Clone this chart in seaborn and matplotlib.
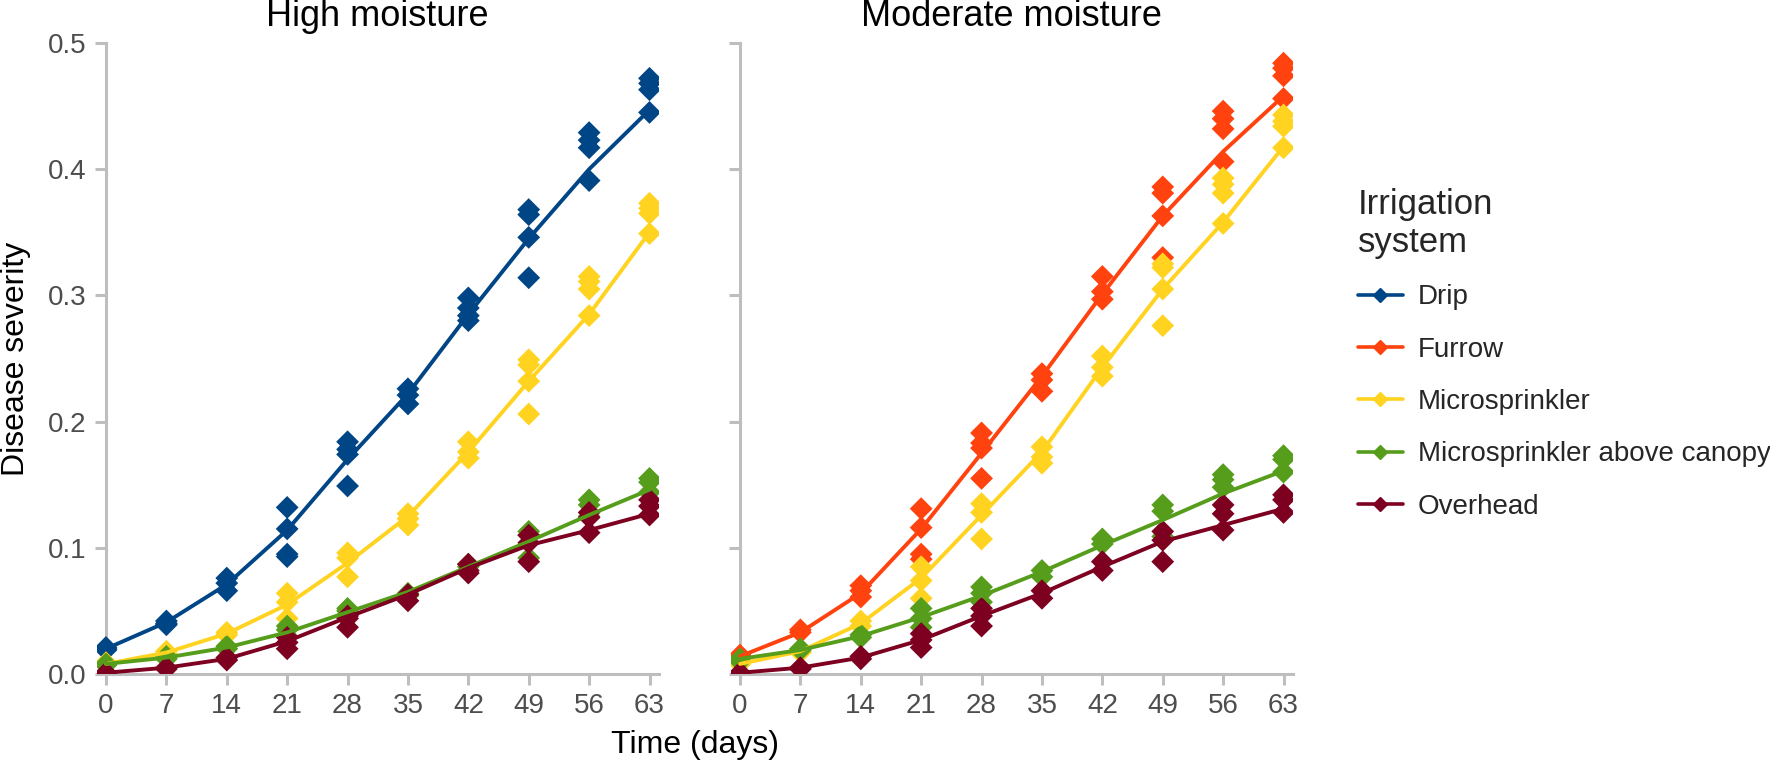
import matplotlib
matplotlib.use("Agg")
import matplotlib.pyplot as plt
from matplotlib.lines import Line2D
import seaborn as sns
import pandas as pd

# ---------------- data ----------------
days = [0, 7, 14, 21, 28, 35, 42, 49, 56, 63]
systems = ["Drip", "Furrow", "Microsprinkler", "Microsprinkler above canopy", "Overhead"]
panel_titles = ["High moisture", "Moderate moisture"]
colors = ["#004586", "#ff420e", "#ffd320", "#579d1c", "#7e0021"]

# High moisture: observed replicates (per day) and fitted curve
drip_high_obs = [[0.020, 0.019, 0.021], [0.042, 0.040, 0.039], [0.076, 0.072, 0.066],
                 [0.132, 0.115, 0.095, 0.093], [0.184, 0.178, 0.174, 0.149], [0.226, 0.221, 0.214],
                 [0.298, 0.290, 0.284, 0.280], [0.368, 0.364, 0.346, 0.314],
                 [0.429, 0.423, 0.417, 0.391], [0.472, 0.468, 0.463, 0.445]]
drip_high_fit = [0.020, 0.041, 0.071, 0.114, 0.170, 0.222, 0.285, 0.345, 0.400, 0.447]

micro_high_obs = [[0.009, 0.008], [0.018, 0.016], [0.033, 0.031], [0.064, 0.057, 0.044],
                  [0.096, 0.092, 0.077], [0.127, 0.123, 0.118], [0.184, 0.176, 0.171],
                  [0.249, 0.245, 0.232, 0.206], [0.315, 0.311, 0.305, 0.284],
                  [0.373, 0.369, 0.365, 0.349]]
micro_high_fit = [0.008, 0.017, 0.032, 0.055, 0.088, 0.125, 0.176, 0.232, 0.285, 0.350]

mac_high_obs = [[0.008, 0.007], [0.014, 0.012], [0.022, 0.020], [0.038, 0.035, 0.030],
                [0.052, 0.050, 0.047], [0.064, 0.062], [0.087, 0.085], [0.113, 0.110, 0.092],
                [0.138, 0.134, 0.125], [0.155, 0.152, 0.144]]
mac_high_fit = [0.008, 0.013, 0.021, 0.033, 0.049, 0.065, 0.085, 0.105, 0.126, 0.146]

over_high_obs = [[0.001], [0.005, 0.004], [0.013, 0.011], [0.029, 0.025, 0.020],
                 [0.046, 0.044, 0.037], [0.063, 0.058], [0.087, 0.082, 0.080],
                 [0.110, 0.104, 0.089], [0.128, 0.124, 0.112], [0.138, 0.133, 0.126]]
over_high_fit = [0.001, 0.005, 0.012, 0.026, 0.045, 0.063, 0.084, 0.102, 0.114, 0.127]

# Moderate moisture
furrow_mod_obs = [[0.015, 0.014], [0.035, 0.033], [0.070, 0.066, 0.061],
                  [0.131, 0.116, 0.095, 0.091], [0.191, 0.183, 0.179, 0.155], [0.238, 0.233, 0.224],
                  [0.315, 0.303, 0.297], [0.386, 0.381, 0.363, 0.330],
                  [0.446, 0.440, 0.432, 0.406], [0.484, 0.480, 0.474, 0.456]]
furrow_mod_fit = [0.014, 0.033, 0.064, 0.115, 0.175, 0.236, 0.301, 0.363, 0.414, 0.458]

micro_mod_obs = [[0.008], [0.018, 0.017], [0.042, 0.038], [0.085, 0.074, 0.060],
                 [0.135, 0.128, 0.107], [0.180, 0.172, 0.167], [0.252, 0.243, 0.236],
                 [0.325, 0.322, 0.305, 0.276], [0.393, 0.388, 0.381, 0.357],
                 [0.443, 0.438, 0.434, 0.417]]
micro_mod_fit = [0.008, 0.018, 0.040, 0.076, 0.126, 0.176, 0.243, 0.305, 0.358, 0.418]

mac_mod_obs = [[0.012, 0.010], [0.020, 0.019], [0.031, 0.029], [0.052, 0.044, 0.037],
               [0.069, 0.064, 0.057], [0.082, 0.077], [0.107, 0.103], [0.134, 0.129, 0.109],
               [0.158, 0.154, 0.148], [0.173, 0.170, 0.160]]
mac_mod_fit = [0.012, 0.019, 0.030, 0.045, 0.062, 0.081, 0.102, 0.122, 0.143, 0.161]

over_mod_obs = [[0.001], [0.005, 0.004], [0.014, 0.012], [0.032, 0.027, 0.021],
                [0.052, 0.046, 0.038], [0.066, 0.060], [0.089, 0.082], [0.113, 0.106, 0.089],
                [0.134, 0.127, 0.114], [0.142, 0.138, 0.128]]
over_mod_fit = [0.001, 0.005, 0.013, 0.027, 0.046, 0.064, 0.085, 0.105, 0.118, 0.131]

x_ticks = [0, 7, 14, 21, 28, 35, 42, 49, 56, 63]
y_ticks = [0.0, 0.1, 0.2, 0.3, 0.4, 0.5]

# ---------------- tidy frames ----------------
panels = {
    "High moisture": [("Drip", drip_high_obs, drip_high_fit),
                      ("Microsprinkler", micro_high_obs, micro_high_fit),
                      ("Microsprinkler above canopy", mac_high_obs, mac_high_fit),
                      ("Overhead", over_high_obs, over_high_fit)],
    "Moderate moisture": [("Furrow", furrow_mod_obs, furrow_mod_fit),
                          ("Microsprinkler", micro_mod_obs, micro_mod_fit),
                          ("Microsprinkler above canopy", mac_mod_obs, mac_mod_fit),
                          ("Overhead", over_mod_obs, over_mod_fit)],
}

obs_rows, fit_rows = [], []
for panel, series in panels.items():
    for sys_name, obs, fit in series:
        for d, reps, f in zip(days, obs, fit):
            for v in reps:
                obs_rows.append((panel, sys_name, d, v))
            fit_rows.append((panel, sys_name, d, f))
obs_df = pd.DataFrame(obs_rows, columns=["panel", "system", "day", "severity"])
fit_df = pd.DataFrame(fit_rows, columns=["panel", "system", "day", "severity"])

palette = dict(zip(systems, colors))

# ---------------- plot ----------------
sns.set_style("white")
plt.rcParams["font.family"] = ["Liberation Sans", "DejaVu Sans"]

W, H = 1770, 767
fig = plt.figure(figsize=(W / 100, H / 100), dpi=100)
axes_rect = [(96.5 / W, (H - 674) / H, 562.5 / W, 631 / H),
             (730.5 / W, (H - 674) / H, 562.5 / W, 631 / H)]

spine_col = "#bebebe"
tick_lab_col = "#4d4d4d"

for i, panel in enumerate(panel_titles):
    ax = fig.add_axes(axes_rect[i])
    o = obs_df[obs_df.panel == panel]
    f = fit_df[fit_df.panel == panel]
    sns.scatterplot(data=o, x="day", y="severity", hue="system", palette=palette,
                    marker="D", s=135, linewidth=0, ax=ax, legend=False, zorder=3)
    sns.lineplot(data=f, x="day", y="severity", hue="system", palette=palette,
                 linewidth=2.8, ax=ax, legend=False, zorder=4)
    ax.set_xlim(-1.1, 64.1)
    ax.set_ylim(0, 0.5)
    ax.set_xticks(x_ticks)
    ax.set_yticks(y_ticks)
    if i == 0:
        ax.set_yticklabels([f"{v:.1f}" for v in y_ticks])
        ax.set_ylabel("Disease severity", fontsize=23, color="black", labelpad=12)
    else:
        ax.set_yticklabels([])
        ax.set_ylabel("")
    ax.set_xlabel("")
    ax.set_title(panel, fontsize=26, color="black", pad=12)
    for s in ["top", "right"]:
        ax.spines[s].set_visible(False)
    ax.spines["left"].set_position(("data", 0))
    for s in ["left", "bottom"]:
        ax.spines[s].set_color(spine_col)
        ax.spines[s].set_linewidth(2.2)
    ax.tick_params(axis="both", which="major", length=8, width=2.2, color=spine_col,
                   labelsize=20, labelcolor=tick_lab_col, direction="out", pad=6)
    ax.tick_params(axis="both", left=True, bottom=True)
    ax.grid(False)

fig.text((96.5 + 1293) / 2 / W, 1 - 745 / H, "Time (days)", ha="center", va="center",
         fontsize=23, color="black")

handles = [Line2D([], [], color=c, marker="D", markersize=7, linewidth=2.6) for c in colors]
leg = fig.legend(handles, systems, loc="upper left", bbox_to_anchor=(1347 / W, 1 - 177 / H),
                 frameon=False, fontsize=20, title="Irrigation\nsystem", title_fontsize=25,
                 handlelength=1.6, handletextpad=0.55, labelspacing=0.95, alignment="left",
                 borderaxespad=0)
leg._legend_box.sep = 18

fig.savefig("out.png", dpi=100)
